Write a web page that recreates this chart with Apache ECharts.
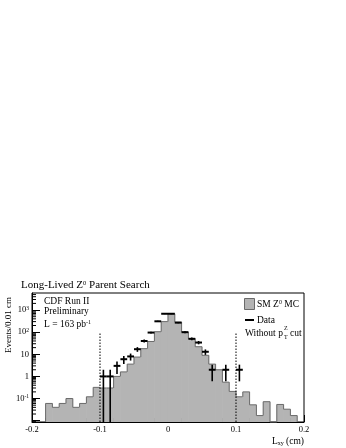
<!DOCTYPE html>
<html><head><meta charset="utf-8">
<script src="https://cdn.jsdelivr.net/npm/echarts@6/dist/echarts.min.js"></script>
<style>html,body{margin:0;padding:0;background:#fff}#c{width:346px;height:448px}</style>
</head><body><div id="c"></div>
<script>
// ---- data ----
const mcBinLeft = [-0.18,-0.17,-0.16,-0.15,-0.14,-0.13,-0.12,-0.11,-0.10,-0.09,-0.08,-0.07,-0.06,-0.05,-0.04,-0.03,-0.02,-0.01,
  0.00,0.01,0.02,0.03,0.04,0.05,0.06,0.07,0.08,0.09,0.10,0.11,0.12,0.13,0.14,0.15,0.16,0.17,0.18];
const mcValues = [0.06,0.04,0.06,0.10,0.04,0.06,0.12,0.32,0.30,0.30,1.0,1.6,3.6,7.5,18,38,105,300,
  680,285,100,52,22,9,3.6,2.0,0.55,0.21,0.12,0.20,0.052,0.017,0.072,0,0.054,0.033,0.017];
const binWidth = 0.01;
const dataX = [-0.095,-0.085,-0.075,-0.065,-0.055,-0.045,-0.035,-0.025,-0.015,-0.005,0.005,0.015,0.025,0.035,0.045,0.055,0.065,0.085,0.105];
const dataY = [1,1,3,6,8,17,40,96,310,680,680,270,100,50,34,13,2,2,2];
const dataErr = [1,1,1.7,2.4,2.8,4.1,6.3,9.8,17.6,26.1,26.1,16.4,10,7.1,5.8,3.6,1.4,1.4,1.4];
const xTickLabels = {'-0.2':'-0.2','-0.1':'-0.1','0':'0','0.1':'0.1','0.2':'0.2'};
const yTickLabels = {'-1':'10{sup|-1}','0':'1','1':'10','2':'10{sup|2}','3':'10{sup|3}'};
const cutX = [-0.1, 0.1];
const cutTop = 100;
const xMin = -0.2, xMax = 0.2;
const yMin = 0.0087, yMax = 5900;

const FONT = '"Liberation Serif","DejaVu Serif",serif';
const mcFill = '#b4b4b4', mcLine = '#6a6a6a';

const yMinor = [];
for (let k = -3; k <= 4; k++) for (let m = 2; m <= 9; m++) {
  const v = m * Math.pow(10, k);
  if (v > yMin && v < yMax) yMinor.push([xMin, v]);
}

const mcData = mcBinLeft.map((x, i) => [x, x + binWidth, mcValues[i], i > 0 ? mcValues[i - 1] : 0, i === mcBinLeft.length - 1 ? 1 : 0]);
const dataPts = dataX.map((x, i) => [x, dataY[i], dataErr[i]]);

const chart = echarts.init(document.getElementById('c'), null, {renderer: 'canvas'});
chart.setOption({
  animation: false,
  backgroundColor: '#fff',
  grid: {left: 32, right: 42, top: 293, bottom: 26, show: true, borderColor: '#000', borderWidth: 1, containLabel: false, outerBoundsMode: 'none'},
  xAxis: {
    type: 'value', min: xMin, max: xMax, interval: 0.1,
    axisLine: {show: true, onZero: false, lineStyle: {color: '#000', width: 1}},
    axisTick: {show: true, inside: true, length: 7, lineStyle: {color: '#000'}},
    minorTick: {show: true, splitNumber: 5, length: 4, lineStyle: {color: '#000'}},
    splitLine: {show: false},
    axisLabel: {fontFamily: FONT, fontSize: 8.5, color: '#000', margin: 3,
      formatter: v => { const k = String(Math.round(v * 10) / 10); return xTickLabels[k] !== undefined ? xTickLabels[k] : ''; }}
  },
  yAxis: {
    type: 'log', logBase: 10, min: yMin, max: yMax,
    axisLine: {show: true, onZero: false, lineStyle: {color: '#000', width: 1}},
    axisTick: {show: true, inside: true, length: 8, lineStyle: {color: '#000'}},
    minorTick: {show: false},
    splitLine: {show: false},
    axisLabel: {fontFamily: FONT, fontSize: 8.5, color: '#000', margin: 3, showMinLabel: false, showMaxLabel: false,
      rich: {sup: {fontSize: 5.5, fontFamily: FONT, verticalAlign: 'top', lineHeight: 6, color: '#000'}},
      formatter: v => { const l = Math.log10(v); const r = Math.round(l); if (Math.abs(l - r) > 1e-6) return ''; const s = yTickLabels[String(r)]; return s === undefined ? '' : s; }}
  },
  series: [
    {
      type: 'custom', name: 'SM Z0 MC', data: mcData, encode: {x: [0, 1], y: 2}, z: 2,
      renderItem: (params, api) => {
        const x0 = api.value(0), x1 = api.value(1), v = api.value(2), pv = api.value(3), last = api.value(4);
        const b = api.coord([x0, yMin]);
        const px0 = b[0], px1 = api.coord([x1, yMin])[0], bottom = b[1];
        const top = v > 0 ? api.coord([x0, v])[1] : bottom;
        const ptop = pv > 0 ? api.coord([x0, pv])[1] : bottom;
        const ch = [];
        if (v > 0) ch.push({type: 'rect', shape: {x: px0 - 0.3, y: top, width: px1 - px0 + 0.6, height: bottom - top}, style: {fill: mcFill}});
        const pts = [[px0, ptop], [px0, top], [px1, top]];
        if (last) pts.push([px1, bottom]);
        ch.push({type: 'polyline', shape: {points: pts}, style: {stroke: mcLine, lineWidth: 1, fill: null}});
        return {type: 'group', children: ch};
      }
    },
    {
      type: 'custom', name: 'cuts', data: cutX.map(x => [x, cutTop]), encode: {x: 0, y: 1}, z: 3,
      renderItem: (params, api) => {
        const a = api.coord([api.value(0), yMin]), t = api.coord([api.value(0), api.value(1)]);
        return {type: 'line', shape: {x1: a[0], y1: a[1], x2: t[0], y2: t[1]}, style: {stroke: '#000', lineWidth: 1, lineDash: [1.5, 1.5]}};
      }
    },
    {
      type: 'custom', name: 'Data', data: dataPts, encode: {x: 0, y: 1}, z: 4,
      renderItem: (params, api) => {
        const x = api.value(0), y = api.value(1), e = api.value(2);
        const c = api.coord([x, y]);
        const l = api.coord([x - binWidth / 2, y])[0], r = api.coord([x + binWidth / 2, y])[0];
        const lo = api.coord([x, Math.max(y - e, yMin)])[1], hi = api.coord([x, y + e])[1];
        return {type: 'group', children: [
          {type: 'line', shape: {x1: l, y1: c[1], x2: r, y2: c[1]}, style: {stroke: '#000', lineWidth: 2}},
          {type: 'line', shape: {x1: c[0], y1: lo, x2: c[0], y2: hi}, style: {stroke: '#000', lineWidth: 1.6}}
        ]};
      }
    },
    {
      type: 'custom', name: 'yminor', data: yMinor, encode: {x: 0, y: 1}, z: 5, silent: true,
      renderItem: (params, api) => {
        const p = api.coord([api.value(0), api.value(1)]);
        return {type: 'line', shape: {x1: p[0], y1: p[1], x2: p[0] + 4, y2: p[1]}, style: {stroke: '#000', lineWidth: 1}};
      }
    }
  ],
  graphic: [
    {type: 'text', left: 21, top: 280, style: {text: 'Long-Lived Z{sup|0} Parent Search', font: '11px ' + FONT, fill: '#000',
      rich: {sup: {fontSize: 6.5, fontFamily: FONT, verticalAlign: 'top', lineHeight: 7}}}},
    {type: 'text', x: 9, y: 297, rotation: Math.PI / 2, style: {text: 'Events/0.01 cm', font: '9px ' + FONT, fill: '#000', align: 'right', verticalAlign: 'middle'}},
    {type: 'text', x: 304, y: 441, style: {text: 'L{sub|xy} (cm)', font: '9.5px ' + FONT, fill: '#000', align: 'right', verticalAlign: 'middle',
      rich: {sub: {fontSize: 6, fontFamily: FONT, verticalAlign: 'bottom', lineHeight: 7}}}},
    {type: 'text', x: 44, y: 301, style: {text: 'CDF Run II', font: '9.5px ' + FONT, fill: '#000', verticalAlign: 'middle'}},
    {type: 'text', x: 44, y: 311, style: {text: 'Preliminary', font: '9.5px ' + FONT, fill: '#000', verticalAlign: 'middle'}},
    {type: 'text', x: 44, y: 324, style: {text: 'L = 163 pb{sup|-1}', font: '9.5px ' + FONT, fill: '#000', verticalAlign: 'middle',
      rich: {sup: {fontSize: 6, fontFamily: FONT, verticalAlign: 'top', lineHeight: 7}}}},
    {type: 'rect', shape: {x: 244.5, y: 298.5, width: 10, height: 11}, style: {fill: mcFill, stroke: mcLine, lineWidth: 1}},
    {type: 'text', x: 257, y: 304, style: {text: 'SM Z{sup|0} MC', font: '9.5px ' + FONT, fill: '#000', verticalAlign: 'middle',
      rich: {sup: {fontSize: 6, fontFamily: FONT, verticalAlign: 'top', lineHeight: 7}}}},
    {type: 'line', shape: {x1: 245, y1: 320, x2: 254, y2: 320}, style: {stroke: '#000', lineWidth: 2}},
    {type: 'text', x: 257, y: 320, style: {text: 'Data', font: '9.5px ' + FONT, fill: '#000', verticalAlign: 'middle'}},
    {type: 'text', x: 245, y: 333, style: {text: 'Without p', font: '9.5px ' + FONT, fill: '#000', verticalAlign: 'middle'}},
    {type: 'text', x: 284, y: 328, style: {text: 'Z', font: '6px ' + FONT, fill: '#000', verticalAlign: 'middle'}},
    {type: 'text', x: 284, y: 337, style: {text: 'T', font: '6px ' + FONT, fill: '#000', verticalAlign: 'middle'}},
    {type: 'text', x: 290, y: 333, style: {text: 'cut', font: '9.5px ' + FONT, fill: '#000', verticalAlign: 'middle'}}
  ]
});
</script>
</body></html>
